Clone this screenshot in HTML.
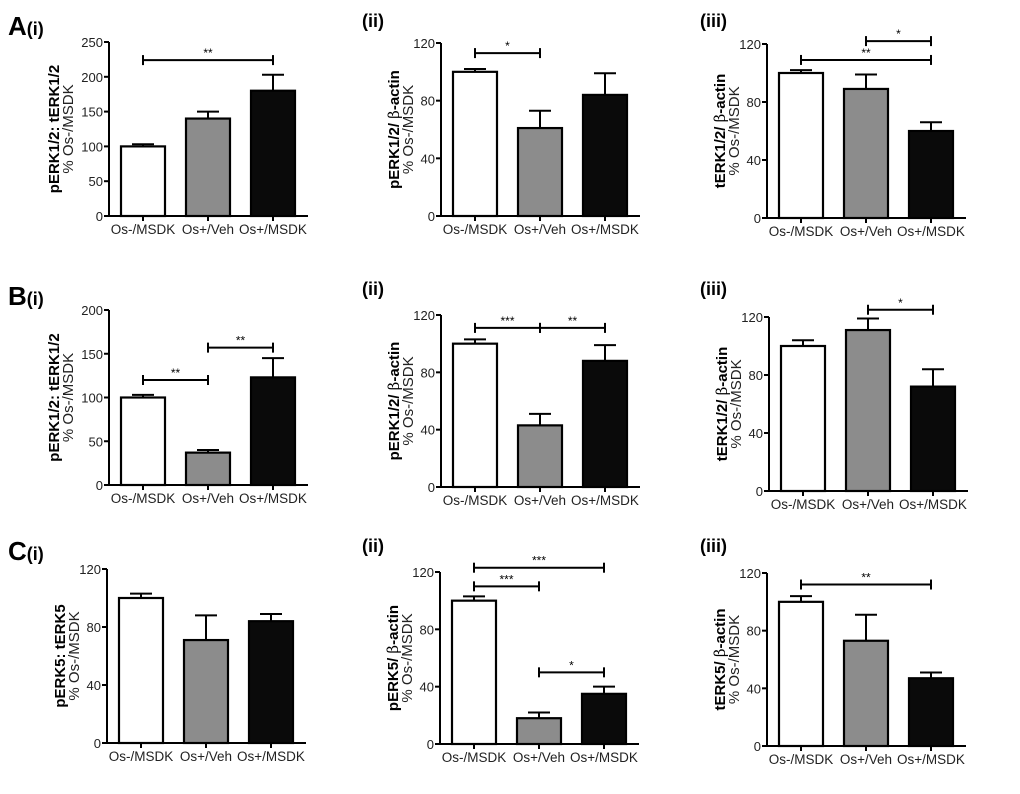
<!DOCTYPE html>
<html><head><meta charset="utf-8"><style>
html,body{margin:0;padding:0;background:#fff;}
svg{display:block;font-family:"Liberation Sans",Arial,sans-serif;}
</style></head><body>
<svg id="fig" width="1020" height="794" viewBox="0 0 1020 794" xmlns="http://www.w3.org/2000/svg"></svg>
<script>
const categories = ["Os-/MSDK","Os+/Veh","Os+/MSDK"];
const meansA1 = [100,140,180], errA1 = [3,10,23];
const meansA2 = [100,61,84], errA2 = [2,12,15];
const meansA3 = [100,89,60], errA3 = [2,10,6];
const meansB1 = [100,37,123], errB1 = [3,3,22];
const meansB2 = [100,43,88], errB2 = [3,8,11];
const meansB3 = [100,111,72], errB3 = [4,8,12];
const meansC1 = [100,71,84], errC1 = [3,17,5];
const meansC2 = [100,18,35], errC2 = [3,4,5];
const meansC3 = [100,73,47], errC3 = [4,18,4];
const ticks250 = [0,50,100,150,200,250];
const ticks200 = [0,50,100,150,200];
const ticks120 = [0,40,80,120];
const sigA1 = [[0,2,224,"**"]];
const sigA2 = [[0,1,113,"*"]];
const sigA3 = [[0,2,109,"**"],[1,2,122,"*"]];
const sigB1 = [[0,1,120,"**"],[1,2,157,"**"]];
const sigB2 = [[0,1,111,"***"],[1,2,111,"**"]];
const sigB3 = [[1,2,125,"*"]];
const sigC1 = [];
const sigC2 = [[0,2,123,"***"],[0,1,110,"***"],[1,2,50,"*"]];
const sigC3 = [[0,2,112,"**"]];

const NS="http://www.w3.org/2000/svg";
const svg=document.getElementById('fig');
function mk(tag,attrs,parent,text){const e=document.createElementNS(NS,tag);for(const k in attrs)e.setAttribute(k,attrs[k]);if(text!==undefined)e.textContent=text;(parent||svg).appendChild(e);return e;}

const panels=[
 {id:"a-i",letter:"A",roman:"(i)",lx:8,ly:35,ax:109,y0:216,y1:42,max:250,ticks:ticks250,m:meansA1,e:errA1,s:sigA1,t1:"pERK1/2: tERK1/2",beta:false,to:50},
 {id:"a-ii",letter:"",roman:"(ii)",lx:362,ly:27,ax:441,y0:216,y1:43,max:120,ticks:ticks120,m:meansA2,e:errA2,s:sigA2,t1:"pERK1/2/ ",beta:true,to:42},
 {id:"a-iii",letter:"",roman:"(iii)",lx:700,ly:27,ax:767,y0:218,y1:44,max:120,ticks:ticks120,m:meansA3,e:errA3,s:sigA3,t1:"tERK1/2/ ",beta:true,to:42},
 {id:"b-i",letter:"B",roman:"(i)",lx:8,ly:305,ax:109,y0:485,y1:310,max:200,ticks:ticks200,m:meansB1,e:errB1,s:sigB1,t1:"pERK1/2: tERK1/2",beta:false,to:50},
 {id:"b-ii",letter:"",roman:"(ii)",lx:362,ly:295,ax:441,y0:487,y1:315,max:120,ticks:ticks120,m:meansB2,e:errB2,s:sigB2,t1:"pERK1/2/ ",beta:true,to:42},
 {id:"b-iii",letter:"",roman:"(iii)",lx:700,ly:295,ax:769,y0:491,y1:317,max:120,ticks:ticks120,m:meansB3,e:errB3,s:sigB3,t1:"tERK1/2/ ",beta:true,to:42},
 {id:"c-i",letter:"C",roman:"(i)",lx:8,ly:560,ax:107,y0:743,y1:569,max:120,ticks:ticks120,m:meansC1,e:errC1,s:sigC1,t1:"pERK5: tERK5",beta:false,to:42},
 {id:"c-ii",letter:"",roman:"(ii)",lx:362,ly:552,ax:440,y0:744,y1:572,max:120,ticks:ticks120,m:meansC2,e:errC2,s:sigC2,t1:"pERK5/ ",beta:true,to:42},
 {id:"c-iii",letter:"",roman:"(iii)",lx:700,ly:552,ax:767,y0:746,y1:573,max:120,ticks:ticks120,m:meansC3,e:errC3,s:sigC3,t1:"tERK5/ ",beta:true,to:42}
];
const fills=["#ffffff","#8c8c8c","#0a0a0a"];

panels.forEach(p=>{
 const g=mk('g',{});
 
 
 const yS=v=>p.y0-(v/p.max)*(p.y0-p.y1);
 const xC=i=>p.ax+34+i*65;
 const lab=mk('text',{x:p.lx,y:p.ly,'font-weight':'bold',fill:'#000'},g);
 
 
 if(p.letter){mk('tspan',{'font-size':26},lab,p.letter);}
 mk('tspan',{'font-size':18},lab,p.roman);
 const tx=p.ax-p.to, ty=(p.y0+p.y1)/2;
 const t1=mk('text',{x:0,y:0,'font-size':15,'font-weight':'bold','text-anchor':'middle',transform:`translate(${tx},${ty}) rotate(-90)`},g);
 
 
 mk('tspan',{},t1,p.t1);
 if(p.beta){mk('tspan',{'font-weight':'normal','font-family':'DejaVu Serif, serif'},t1,"β");mk('tspan',{},t1,"-actin");}
 const t2=mk('text',{x:0,y:0,'font-size':15,'text-anchor':'middle',fill:'#222',transform:`translate(${tx+14},${ty}) rotate(-90)`},g,"% Os-/MSDK");
 
 
 p.m.forEach((v,i)=>{
  const x=xC(i);
  const top=yS(v+p.e[i]);
  const el=mk('line',{x1:x,x2:x,y1:yS(v),y2:top,stroke:'#000','stroke-width':2},g);
  
  
  mk('line',{x1:x-11,x2:x+11,y1:top,y2:top,stroke:'#000','stroke-width':2},g);
  const r=mk('rect',{x:x-22,y:yS(v),width:44,height:p.y0-yS(v),fill:fills[i],stroke:'#000','stroke-width':2.2},g);
  
  
 });
 const ya=mk('line',{x1:p.ax,x2:p.ax,y1:p.y1,y2:p.y0,stroke:'#000','stroke-width':2},g);
 
 
 const xa=mk('line',{x1:p.ax-1,x2:p.ax+199,y1:p.y0,y2:p.y0,stroke:'#000','stroke-width':2},g);
 
 
 p.ticks.forEach(t=>{
  const y=yS(t);
  mk('line',{x1:p.ax-5,x2:p.ax,y1:y,y2:y,stroke:'#000','stroke-width':2},g);
  const tl=mk('text',{x:p.ax-6,y:y+5,'font-size':13,'text-anchor':'end',fill:'#222'},g,String(t));
  
  
 });
 categories.forEach((c,i)=>{
  const x=xC(i);
  mk('line',{x1:x,x2:x,y1:p.y0,y2:p.y0+5,stroke:'#000','stroke-width':2},g);
  const cl=mk('text',{x:x,y:p.y0+18,'font-size':13.5,'text-anchor':'middle',fill:'#222'},g,c);
  
  
 });
 p.s.forEach(s=>{
  const y=yS(s[2]), xa1=xC(s[0]), xb=xC(s[1]);
  const sl=mk('line',{x1:xa1,x2:xb,y1:y,y2:y,stroke:'#000','stroke-width':2},g);
  
  
  mk('line',{x1:xa1,x2:xa1,y1:y-5,y2:y+5,stroke:'#000','stroke-width':2},g);
  mk('line',{x1:xb,x2:xb,y1:y-5,y2:y+5,stroke:'#000','stroke-width':2},g);
  const st=mk('text',{x:(xa1+xb)/2,y:y-3,'font-size':12,'text-anchor':'middle'},g,s[3]);
  
  
 });
});
</script>
</body></html>
